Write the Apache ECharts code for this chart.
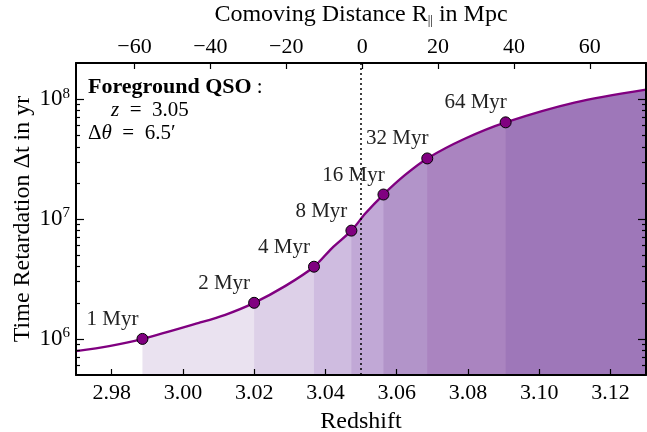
<!DOCTYPE html>
<html>
<head>
<meta charset="utf-8">
<script src="https://cdn.jsdelivr.net/npm/echarts@6/dist/echarts.min.js"></script>
<style>
  html, body { margin: 0; padding: 0; background: #fff; }
  #chart { width: 647px; height: 432px; }
</style>
</head>
<body>
<div id="chart"></div>
<script>
// curve: redshift vs time retardation (yr)
const curveZ = [2.970, 2.9793, 2.98865, 3.0045, 3.0119, 3.0200, 3.0288, 3.0368, 3.0418, 3.0473, 3.0512, 3.0563, 3.0623, 3.0686, 3.0791, 3.0906, 3.1099, 3.1300]
const curveT = [7.9e5, 8.7e5, 1.0e6, 1.36e6, 1.59e6, 2.0e6, 2.77e6, 4.0e6, 5.7e6, 8.0e6, 1.11e7, 1.6e7, 2.32e7, 3.2e7, 4.67e7, 6.4e7, 9.35e7, 1.2e8]

// marked points
const markerZ = [2.98865, 3.0200, 3.0368, 3.0473, 3.0563, 3.0686, 3.0906]
const markerT = [1e6, 2e6, 4e6, 8e6, 1.6e7, 3.2e7, 6.4e7]
const markerLabels = ['1 Myr', '2 Myr', '4 Myr', '8 Myr', '16 Myr', '32 Myr', '64 Myr']
const bandColors = ['#eae2f0', '#ddd0e8', '#cfbce0', '#c1a8d6', '#b294c9', '#aa84c0', '#9e77b9']

// ticks
const zTicks = [2.98, 3.00, 3.02, 3.04, 3.06, 3.08, 3.10, 3.12]
const rTicks = [-60, -40, -20, 0, 20, 40, 60]
const yMajor = [1e6, 1e7, 1e8]
const yExp = ['6', '7', '8']
const yMinor = [6e5, 7e5, 8e5, 9e5, 2e6, 3e6, 4e6, 5e6, 6e6, 7e6, 8e6, 9e6, 2e7, 3e7, 4e7, 5e7, 6e7, 7e7, 8e7, 9e7]
const qsoZ = 3.05

const FONT = '"Liberation Serif", "DejaVu Serif", serif'
const purple = '#800080'

const chart = echarts.init(document.getElementById('chart'))

const curve = curveZ.map((z, i) => [z, curveT[i]])

// shaded bands: each one runs from its marker to the right edge,
// the next (darker) one is drawn over it, so there are no seams
const bands = markerZ.map((z0, i) => ({
  type: 'line',
  data: curve.filter(p => p[0] >= z0 - 1e-9),
  smooth: 0.3,
  symbol: 'none',
  lineStyle: { width: 0 },
  areaStyle: { color: bandColors[i], opacity: 1, origin: 'start' },
  z: 1,
  silent: true
}))

const axisLine = { show: true, onZero: false, lineStyle: { color: '#000', width: 2 } }
const tickStyle = { color: '#000', width: 1.2 }

const yBase = {
  type: 'log',
  min: 5e5,
  max: 2e8,
  z: 10,
  splitLine: { show: false },
  axisLabel: { show: false }
}

const option = {
  animation: false,
  grid: { left: 76, right: 1, top: 63, bottom: 57, outerBoundsMode: 'none' },
  xAxis: [
    {
      type: 'value',
      min: 2.97,
      max: 3.13,
      position: 'bottom',
      z: 10,
      axisLine,
      axisTick: { inside: true, length: 6, customValues: zTicks, lineStyle: tickStyle },
      axisLabel: {
        customValues: zTicks,
        formatter: v => v.toFixed(2),
        fontFamily: FONT, fontSize: 22, color: '#000', margin: 7
      },
      splitLine: { show: false },
      name: 'Redshift',
      nameLocation: 'middle',
      nameGap: 35,
      nameMoveOverlap: false,
      nameTextStyle: { fontFamily: FONT, fontSize: 24, color: '#000' }
    },
    {
      type: 'value',
      min: -75.4,
      max: 74.8,
      position: 'top',
      z: 10,
      axisLine,
      axisTick: { inside: true, length: 6, customValues: rTicks, lineStyle: tickStyle },
      axisLabel: {
        customValues: rTicks,
        formatter: v => (v < 0 ? '\u2212' + (-v) : '' + v),
        fontFamily: FONT, fontSize: 22, color: '#000', margin: 5
      },
      splitLine: { show: false },
      name: 'Comoving Distance R{sub|||} in Mpc',
      nameLocation: 'middle',
      nameGap: 36,
      nameMoveOverlap: false,
      nameTextStyle: {
        fontFamily: FONT, fontSize: 24, color: '#000',
        rich: { sub: { fontFamily: FONT, fontSize: 13, color: '#000', verticalAlign: 'bottom', padding: [9, 0, 0, 0] } }
      }
    }
  ],
  yAxis: [
    {
      ...yBase,
      position: 'left',
      axisLine,
      axisTick: { inside: true, length: 8, customValues: yMajor, lineStyle: tickStyle },
      axisLabel: {
        show: true,
        customValues: yMajor,
        formatter: v => '{b|10}{s|' + yExp[yMajor.indexOf(v)] + '}',
        margin: 6,
        rich: {
          b: { fontFamily: FONT, fontSize: 23, color: '#000' },
          s: { fontFamily: FONT, fontSize: 15, color: '#000', padding: [0, 0, 11, 0] }
        }
      },
      name: 'Time Retardation \u0394t in yr',
      nameLocation: 'middle',
      nameGap: 41,
      nameMoveOverlap: false,
      nameTextStyle: { fontFamily: FONT, fontSize: 24, color: '#000' }
    },
    {
      ...yBase,
      position: 'left',
      axisLine: { show: false, onZero: false },
      axisTick: { inside: true, length: 4, customValues: yMinor, lineStyle: tickStyle }
    },
    {
      ...yBase,
      position: 'right',
      axisLine,
      axisTick: { inside: true, length: 8, customValues: yMajor, lineStyle: tickStyle }
    },
    {
      ...yBase,
      position: 'right',
      axisLine: { show: false, onZero: false },
      axisTick: { inside: true, length: 4, customValues: yMinor, lineStyle: tickStyle }
    }
  ],
  graphic: [
    {
      type: 'text', left: 88, top: 76, z: 100,
      style: {
        text: '{b|Foreground QSO} :',
        fontFamily: FONT, fontSize: 21, fill: '#000',
        rich: { b: { fontFamily: FONT, fontSize: 22, fontWeight: 'bold', fill: '#000' } }
      }
    },
    {
      type: 'text', left: 111, top: 100, z: 100,
      style: {
        text: '{i|z}\u2002=\u20023.05',
        fontFamily: FONT, fontSize: 21, fill: '#000',
        rich: { i: { fontFamily: FONT, fontSize: 21, fontStyle: 'italic', fill: '#000' } }
      }
    },
    {
      type: 'text', left: 88, top: 123, z: 100,
      style: {
        text: '\u0394{i|\u03b8}\u2002=\u20026.5\u2032',
        fontFamily: FONT, fontSize: 21, fill: '#000',
        rich: { i: { fontFamily: FONT, fontSize: 21, fontStyle: 'italic', fill: '#000' } }
      }
    }
  ],
  series: [
    ...bands,
    {
      type: 'line',
      data: curve,
      smooth: 0.3,
      symbol: 'none',
      lineStyle: { color: purple, width: 2.4 },
      z: 3,
      markLine: {
        silent: true,
        symbol: ['none', 'none'],
        label: { show: false },
        lineStyle: { type: [2, 3], color: '#000', width: 1.5 },
        data: [{ xAxis: qsoZ }]
      }
    },
    {
      type: 'scatter',
      data: markerZ.map((z, i) => [z, markerT[i]]),
      symbolSize: 11,
      itemStyle: { color: purple, borderColor: '#000', borderWidth: 1, opacity: 1 },
      z: 4,
      label: {
        show: true,
        position: 'top',
        offset: [-30, 2],
        formatter: p => markerLabels[p.dataIndex],
        fontFamily: FONT,
        fontSize: 21,
        color: '#222'
      }
    }
  ]
}

chart.setOption(option)
</script>
</body>
</html>
